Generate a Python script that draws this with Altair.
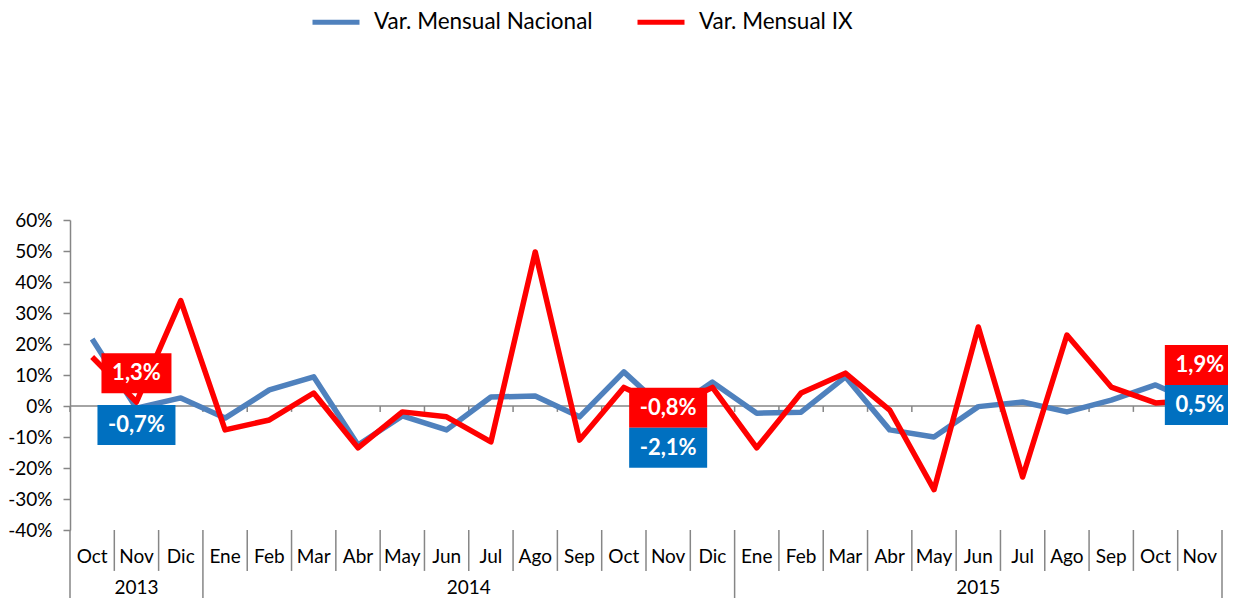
import altair as alt
import pandas as pd

months = ["Oct", "Nov", "Dic", "Ene", "Feb", "Mar", "Abr", "May", "Jun", "Jul", "Ago", "Sep",
          "Oct", "Nov", "Dic", "Ene", "Feb", "Mar", "Abr", "May", "Jun", "Jul", "Ago", "Sep",
          "Oct", "Nov"]
years = ["2013"] * 3 + ["2014"] * 12 + ["2015"] * 11
nacional = [21.6, -0.7, 2.6, -3.9, 5.2, 9.4, -12.6, -3.2, -7.7, 2.9, 3.2, -3.5,
            11.0, -2.1, 7.7, -2.3, -2.0, 9.4, -7.7, -10.0, -0.2, 1.3, -1.9, 1.9, 6.8, 0.5]
ix = [15.8, 1.3, 34.0, -7.7, -4.5, 4.2, -13.5, -1.9, -3.5, -11.6, 49.7, -11.0,
      6.0, -0.8, 6.0, -13.5, 4.2, 10.6, -1.3, -27.0, 25.5, -22.9, 22.9, 6.1, 1.0, 1.9]
series_names = ["Var. Mensual Nacional", "Var. Mensual IX"]
y_ticks = [-0.4, -0.3, -0.2, -0.1, 0.0, 0.1, 0.2, 0.3, 0.4, 0.5, 0.6]

# data labels (category index, series, text, anchor)
lab_idx = [1, 1, 13, 13, 25, 25]
lab_series = ["Var. Mensual IX", "Var. Mensual Nacional"] * 3
lab_text = ["1,3%", "-0,7%", "-0,8%", "-2,1%", "1,9%", "0,5%"]
lab_y = [0.106, -0.061, -0.006, -0.135, 0.132, 0.003]

FONT = "Lato"
BLUE = "#4F81BD"
RED = "#FF0000"
GRAY = "#868686"
n = len(months)

rows = []
for i in range(n):
    rows.append({"pos": i + 0.5, "series": series_names[0], "v": nacional[i] / 100, "ord": 0})
    rows.append({"pos": i + 0.5, "series": series_names[1], "v": ix[i] / 100, "ord": 1})
df = pd.DataFrame(rows)

mdf = pd.DataFrame({"pos": [i + 0.5 for i in range(n)], "month": months})
year_names = sorted(set(years))
ydf = pd.DataFrame({
    "year": year_names,
    "pos": [(years.index(y) + (len(years) - years[::-1].index(y))) / 2 for y in year_names],
})
year_starts = [years.index(y) for y in year_names] + [n]
sep = pd.DataFrame({
    "b": list(range(n + 1)),
    "y2": [-0.66 if b in year_starts else -0.532 for b in range(n + 1)],
})
ldf = pd.DataFrame({
    "pos": [i + 0.5 for i in lab_idx], "series": lab_series,
    "text": lab_text, "ly": lab_y,
})

xs = alt.Scale(domain=[0, n], nice=False, zero=False)
ys = alt.Scale(domain=[-0.4, 0.6], nice=False, zero=False)

y_axis = alt.Axis(values=y_ticks, labelExpr="round(datum.value*100) + '%'",
                  grid=False, domainColor=GRAY, tickColor=GRAY, domainWidth=1.5,
                  tickWidth=1.5, tickSize=7, labelPadding=11, labelFont=FONT,
                  labelFontSize=19, labelColor="#000000", title=None,
                  labelOverlap=False)


def Y(field):
    return alt.Y(field, scale=ys, axis=y_axis, title=None)


def X(field):
    return alt.X(field, scale=xs, axis=None, title=None)


zero = alt.Chart(pd.DataFrame({"a": [0], "b": [n], "v": [0.0]})).mark_rule(
    color=GRAY, strokeWidth=1.5).encode(x=X("a:Q"), x2="b:Q", y=Y("v:Q"))

zticks = alt.Chart(sep).mark_rule(color=GRAY, strokeWidth=1.5).encode(
    x=X("b:Q"), y=Y("z:Q"), y2="z2:Q"
).transform_calculate(z="0", z2="-0.019")

seps = alt.Chart(sep).mark_rule(color=GRAY, strokeWidth=1.5).encode(
    x=X("b:Q"), y=Y("t:Q"), y2="y2:Q"
).transform_calculate(t="-0.4")

mtext = alt.Chart(mdf).mark_text(font=FONT, fontSize=19, color="#000000", baseline="middle").encode(
    x=X("pos:Q"), y=Y("yy:Q"), text="month:N"
).transform_calculate(yy="-0.487")

ytext = alt.Chart(ydf).mark_text(font=FONT, fontSize=19, color="#000000", baseline="middle").encode(
    x=X("pos:Q"), y=Y("yy:Q"), text="year:N"
).transform_calculate(yy="-0.587")

lines = alt.Chart(df).mark_line(strokeWidth=5.5, strokeJoin="round").encode(
    x=X("pos:Q"),
    y=Y("v:Q"),
    color=alt.Color("series:N", scale=alt.Scale(domain=series_names, range=[BLUE, RED]),
                    sort=series_names,
                    legend=alt.Legend(title=None, orient="none", direction="horizontal",
                                      legendX=240, legendY=-224, symbolType="stroke",
                                      symbolSize=2209, symbolStrokeWidth=5, labelFont=FONT,
                                      labelFontSize=22.5, labelColor="#000000", labelOffset=12,
                                      columnPadding=34, labelLimit=400)),
    order="ord:Q",
)

fill_scale = alt.Scale(domain=series_names, range=["#0070C0", "#FF0000"])


def boxes(nchar, w):
    h = 40.0 / w
    path = f"M-1,-{h:.4f} L1,-{h:.4f} L1,{h:.4f} L-1,{h:.4f} Z"
    return alt.Chart(ldf).transform_calculate(nc="length(datum.text)").transform_filter(
        f"datum.nc == {nchar}").mark_point(shape=path, size=w * w, filled=True, opacity=1,
                                           strokeWidth=0).encode(
        x=X("pos:Q"), y=Y("ly:Q"),
        fill=alt.Fill("series:N", scale=fill_scale, legend=None))


btext = alt.Chart(ldf).mark_text(font=FONT, fontSize=22, fontWeight="bold", color="#FFFFFF",
                                 baseline="middle").encode(
    x=X("pos:Q"), y=Y("ly:Q"), text="text:N")

chart = alt.layer(zero, zticks, seps, mtext, ytext, lines, boxes(4, 70), boxes(5, 78), btext).properties(
    width=1152, height=310,
    autosize=alt.AutoSizeParams(type="none"),
    padding={"left": 62, "top": 212, "right": 6, "bottom": 68},
).configure(font=FONT).configure_view(strokeWidth=0, stroke="transparent")

chart.save("out.html", embed_options={"renderer": "svg", "actions": False})
